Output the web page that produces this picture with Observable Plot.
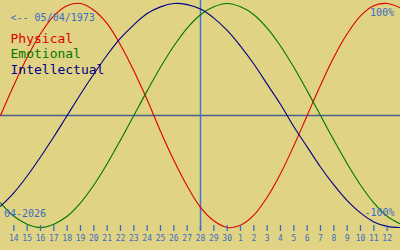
<!DOCTYPE html>
<html>
<head>
<meta charset="utf-8">
<script src="https://cdn.jsdelivr.net/npm/d3@7"></script>
<script src="https://cdn.jsdelivr.net/npm/@observablehq/plot@0.6"></script>
<style>
  html, body { margin: 0; padding: 0; background: #e0d384; }
  #chart svg { display: block; }
</style>
</head>
<body>
<div id="chart"></div>
<script>
// Day labels for tick positions 0..28 (April 14 .. May 12, 2026)
const dayLabels = ["14","15","16","17","18","19","20","21","22","23","24","25","26","27","28","29","30",
                   "1","2","3","4","5","6","7","8","9","10","11","12"];
// Curve samples, one per day slot from -1 (left edge) to 29 (right edge), in percent
const physical = [0,27,52,73,89,98,100,94,82,63,40,14,-14,-40,-63,-82,-94,-100,-98,-89,-73,-52,-27,0,27,52,73,89,98,100,96];
const emotional = [-78,-90,-97,-100,-97,-90,-78,-62,-43,-22,0,22,43,62,78,90,97,100,97,90,78,62,43,22,0,-22,-43,-62,-78,-90,-97];
const intellectual = [-81,-69,-54,-37,-19,0,19,37,54,69,81,91,97,100,99,95,87,76,62,46,28,10,-10,-28,-46,-62,-76,-87,-95,-99,-100];
const seriesNames = ["Physical", "Emotional", "Intellectual"];
const seriesColors = ["#dd0000", "#007700", "#000088"];
const todayIndex = 14;
const birthText = "<-- 05/04/1973";
const monthText = "04-2026";
const topText = "100%";
const bottomText = "-100%";

const firstSlot = -1;
const rows = [];
[physical, emotional, intellectual].forEach((arr, s) => {
  arr.forEach((v, j) => rows.push({series: seriesNames[s], i: firstSlot + j, v}));
});
const tickIdx = dayLabels.map((_, k) => k);

const blue = "#3b6cc4";
const font = "DejaVu Sans Mono";
const legendDy = [39, 54.5, 70];

const chart = Plot.plot({
  width: 400,
  height: 250,
  marginLeft: 0,
  marginRight: 0,
  marginTop: 3,
  marginBottom: 23,
  style: {background: "#e0d384", fontFamily: font},
  x: {domain: [-1, 29], axis: null},
  y: {domain: [-100, 100], axis: null},
  marks: [
    Plot.ruleY([0], {stroke: "#4a5f8c", strokeWidth: 1.5}),
    Plot.ruleX([todayIndex], {stroke: "#3a78d2", strokeWidth: 1.5, insetTop: -3, insetBottom: -4}),
    Plot.line(rows, {x: "i", y: "v", z: "series", stroke: d => seriesColors[seriesNames.indexOf(d.series)], strokeWidth: 1.1, curve: "catmull-rom"}),
    Plot.ruleX(tickIdx, {x: d => d, stroke: blue, strokeWidth: 1.3, insetTop: 222, insetBottom: -4}),
    Plot.text(tickIdx, {x: d => d, text: d => dayLabels[d], frameAnchor: "bottom", dy: 13.7, lineAnchor: "bottom", fill: blue, fontSize: 8, fontFamily: font}),
    Plot.text([birthText], {frameAnchor: "top-left", dx: 10, dy: 17.5, lineAnchor: "bottom", textAnchor: "start", fill: blue, fontSize: 10, fontFamily: font}),
    ...seriesNames.map((name, s) =>
      Plot.text([name], {frameAnchor: "top-left", dx: 10, dy: legendDy[s], lineAnchor: "bottom", textAnchor: "start", fill: seriesColors[s], fontSize: 13, fontFamily: font})
    ),
    Plot.text([topText], {frameAnchor: "top-right", dx: -6.5, dy: 12, lineAnchor: "bottom", textAnchor: "end", fill: blue, fontSize: 10, fontFamily: font}),
    Plot.text([bottomText], {frameAnchor: "top-right", dx: -6, dy: 212.7, lineAnchor: "bottom", textAnchor: "end", fill: blue, fontSize: 10, fontFamily: font}),
    Plot.text([monthText], {frameAnchor: "top-left", dx: 3.5, dy: 213, lineAnchor: "bottom", textAnchor: "start", fill: blue, fontSize: 10, fontFamily: font})
  ]
});
document.getElementById("chart").appendChild(chart);
</script>
</body>
</html>
